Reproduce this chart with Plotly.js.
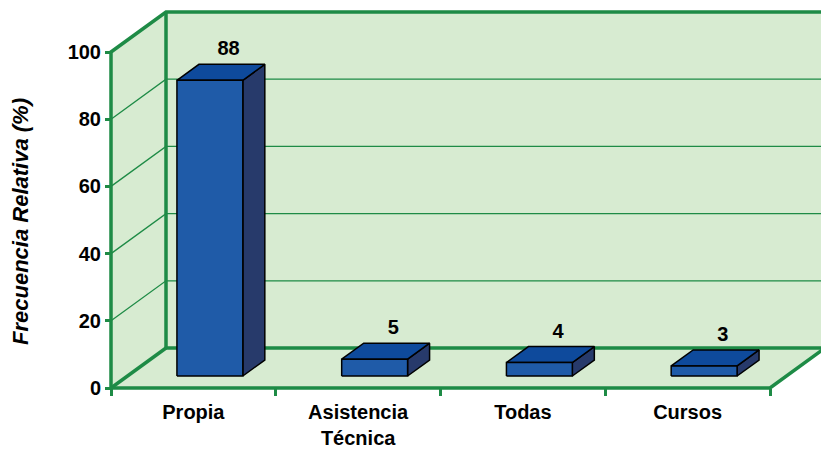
<!DOCTYPE html>
<html>
<head>
<meta charset="utf-8">
<script src="https://cdn.plot.ly/plotly-3.0.1.min.js"></script>
<style>html,body{margin:0;padding:0;background:#fff;}#chart{width:821px;height:449px;}</style>
</head>
<body>
<div id="chart"></div>
<script>
// ---- data ----
const categories = ['Propia', 'Asistencia<br>Técnica', 'Todas', 'Cursos'];
const values = [88, 5, 4, 3];
const valueLabels = ['88', '5', '4', '3'];
const yTickVals = [0, 20, 40, 60, 80, 100];
const yTickText = ['0', '20', '40', '60', '80', '100'];
const yTitle = 'Frecuencia Relativa (%)';

// ---- styling / 3D geometry ----
const PX_CAT = 164.75, PX_UNIT = 3.36;
const DX = 55 / PX_CAT, DY = 40 / PX_UNIT;   // depth offset in data units
const X0 = -0.5, X1 = categories.length - 0.5, YMAX = 100, XFAR = 4.2;
const GREEN = '#1E8B46', WALL = '#D7EBD1';
const FRONT = '#1F5BA8', TOP = '#0E4A9C', SIDE = '#273A6B';
const FONT = 'Liberation Sans, Arial, sans-serif';

const traces = [];
function poly(xs, ys, fill, lineColor, lineWidth) {
  traces.push({type: 'scatter', mode: 'lines', x: xs.concat([xs[0]]), y: ys.concat([ys[0]]),
    fill: 'toself', fillcolor: fill, line: {color: lineColor, width: lineWidth}, hoverinfo: 'skip', showlegend: false});
}
function lines(xs, ys, color, width) {
  traces.push({type: 'scatter', mode: 'lines', x: xs, y: ys, line: {color: color, width: width},
    hoverinfo: 'skip', showlegend: false, connectgaps: false});
}

// walls and floor
poly([X0 + DX, XFAR, XFAR, X0 + DX], [DY, DY, YMAX + DY, YMAX + DY], WALL, WALL, 0);
poly([X0, X0, X0 + DX, X0 + DX], [0, YMAX, YMAX + DY, DY], WALL, WALL, 0);
poly([X0, X1, X1 + DX, X0 + DX], [0, 0, DY, DY], WALL, WALL, 0);

// gridlines on back and left walls
const gx = [], gy = [];
yTickVals.filter(t => t > 0 && t < YMAX).forEach(t => {
  gx.push(X0, X0 + DX, XFAR, null);
  gy.push(t, t + DY, t + DY, null);
});
lines(gx, gy, GREEN, 1.3);

// thick frame
lines([X0, X0, X0 + DX, XFAR], [0, YMAX, YMAX + DY, YMAX + DY], GREEN, 3.5);
lines([X0 + DX, X0 + DX, XFAR], [YMAX + DY, DY, DY], GREEN, 3.5);
lines([X0, X0 + DX], [0, DY], GREEN, 3.5);
lines([X0, X1, X1 + DX], [0, 0, DY], GREEN, 3.5);

// 3D bars
const W = 0.2, D1 = 0.3, D2 = 0.7;
values.forEach((v, i) => {
  const fx0 = i - W + D1 * DX, fx1 = i + W + D1 * DX, fy0 = D1 * DY, fy1 = v + D1 * DY;
  const ox = (D2 - D1) * DX, oy = (D2 - D1) * DY;
  poly([fx1, fx1 + ox, fx1 + ox, fx1], [fy0, fy0 + oy, fy1 + oy, fy1], SIDE, '#000', 1.5);
  poly([fx0, fx1, fx1 + ox, fx0 + ox], [fy1, fy1, fy1 + oy, fy1 + oy], TOP, '#000', 1.5);
  poly([fx0, fx1, fx1, fx0], [fy0, fy0, fy1, fy1], FRONT, '#000', 1.5);
});

// value labels
traces.push({type: 'scatter', mode: 'text', x: values.map((v, i) => i + D2 * DX - 0.02),
  y: values.map(v => v + D2 * DY + 4 / PX_UNIT), text: valueLabels, textposition: 'top center',
  textfont: {family: FONT, size: 20, color: '#000', weight: 'bold'}, hoverinfo: 'skip', showlegend: false, cliponaxis: false});

const L = 107, T = 6, PW = 821 - L, PH = 449 - T - 57;
const layout = {
  width: 821, height: 449,
  margin: {l: L, r: 0, t: T, b: 57},
  paper_bgcolor: '#fff', plot_bgcolor: 'rgba(0,0,0,0)',
  hovermode: false, showlegend: false,
  xaxis: {
    range: [X0 - 4 / PX_CAT, X0 - 4 / PX_CAT + PW / PX_CAT],
    anchor: 'free', position: 4 / PH,
    tickmode: 'array', tickvals: categories.map((c, i) => i), ticktext: categories,
    ticks: '', showgrid: false, zeroline: false, showline: false,
    ticklabelstandoff: 10,
    tickfont: {family: FONT, size: 20, color: '#000', weight: 'bold'},
    minor: {tickmode: 'array', tickvals: categories.map((c, i) => i - 0.5).concat([X1]),
      ticks: 'outside', ticklen: 7, tickwidth: 3, tickcolor: GREEN, showgrid: false},
    fixedrange: true
  },
  yaxis: {
    range: [-4 / PX_UNIT, (388 - T) / PX_UNIT],
    anchor: 'free', position: 4 / PW,
    tickmode: 'array', tickvals: yTickVals, ticktext: yTickText,
    ticks: 'outside', ticklen: 6, tickwidth: 3, tickcolor: GREEN,
    showgrid: false, zeroline: false, showline: false,
    tickfont: {family: FONT, size: 20, color: '#000', weight: 'bold'},
    fixedrange: true
  },
  annotations: [{
    text: yTitle, textangle: -90, showarrow: false,
    xref: 'paper', yref: 'paper', x: (20 - L) / PW, y: (392 - 222) / PH,
    xanchor: 'center', yanchor: 'middle',
    font: {family: FONT, size: 22, color: '#000', weight: 'bold', style: 'italic'}
  }]
};

Plotly.newPlot('chart', traces, layout, {displayModeBar: false, staticPlot: true});
</script>
</body>
</html>
